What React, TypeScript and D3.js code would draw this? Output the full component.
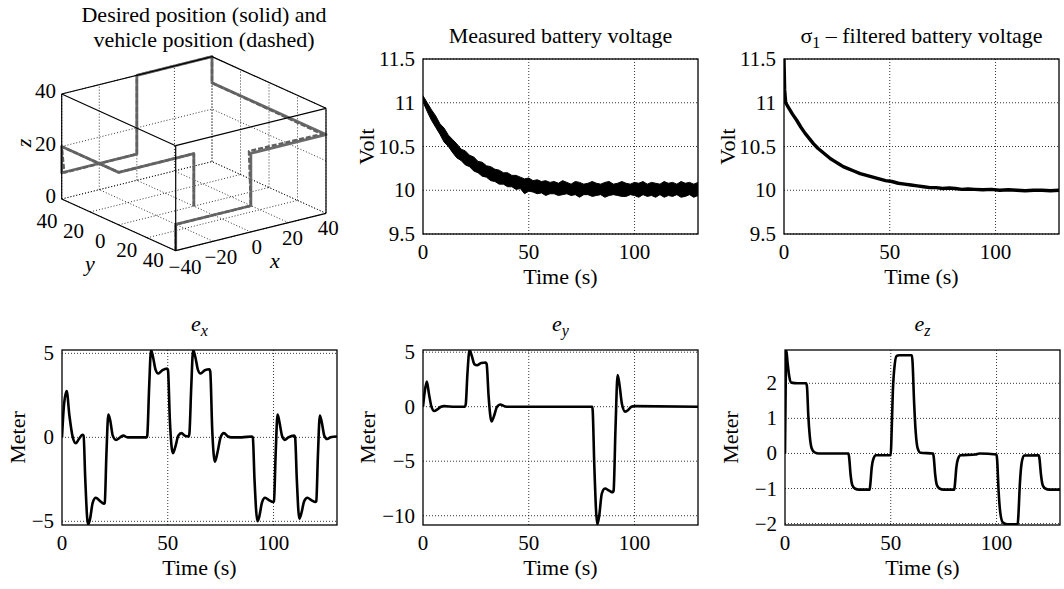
import React from 'react';
import * as d3 from 'd3';

const FONT = '"Liberation Serif", "Times New Roman", serif';
const FS = 21; // tick labels
const FL = 22; // titles and axis names

// shared time axis (s)
const timeDomain = [0, 130];
const timeTicks = [0, 50, 100];

// 3D plot: desired waypoints (solid line)
const posX = [0, 0, -40, -40, -40, 0, 0, 40, 40, 40, 0, 0, -40, -40];
const posY = [0, 0, 0, 40, 40, 40, 40, 40, 40, -40, -40, -40, -40, -40];
const posZ = [0, 20, 20, 20, 10, 10, 40, 40, 30, 30, 30, 10, 10, 0];
// vehicle (dashed), slightly off at the corners
const vehX = [0, 0, -40, -40, -39, 0, 0, 40, 40, 39, -1, 0, -40, -40];
const vehY = [0, 0, 0, 40, 39.5, 40, 40, 40, 40, -38.5, -40, -40, -40, -40];
const vehZ = [0, 20, 20, 20, 10, 10, 40, 40, 30, 30, 31, 10, 10, 0];
const axis3Ticks = [-40, -20, 0, 20, 40];
const yLabels3 = ['40', '20', '0', '20', '40'];
const xLabels3 = ['\u221240', '\u221220', '0', '20', '40'];
const zTicks3 = [0, 20, 40];

// measured battery voltage, noisy band edges every 2 s
const measT = [0, 2, 4, 6, 8, 10, 12, 14, 16, 18, 20, 22, 24, 26, 28, 30, 32, 34, 36, 38, 40, 42, 44, 46, 48, 50,
  52, 54, 56, 58, 60, 62, 64, 66, 68, 70, 72, 74, 76, 78, 80, 82, 84, 86, 88, 90, 92, 94, 96, 98, 100,
  102, 104, 106, 108, 110, 112, 114, 116, 118, 120, 122, 124, 126, 128, 130];
const measHi = [11.08, 11.00, 10.92, 10.85, 10.76, 10.71, 10.63, 10.58, 10.53, 10.47, 10.45, 10.40, 10.38, 10.33,
  10.32, 10.28, 10.27, 10.24, 10.23, 10.20, 10.20, 10.17, 10.17, 10.15, 10.13, 10.14, 10.11, 10.12, 10.10, 10.11,
  10.09, 10.10, 10.08, 10.11, 10.09, 10.07, 10.10, 10.09, 10.07, 10.08, 10.10, 10.08, 10.07, 10.09, 10.10, 10.07,
  10.08, 10.10, 10.08, 10.07, 10.09, 10.08, 10.10, 10.07, 10.09, 10.08, 10.07, 10.10, 10.08, 10.09, 10.07, 10.10,
  10.08, 10.09, 10.07, 10.09];
const measLo = [11.01, 10.90, 10.80, 10.72, 10.64, 10.55, 10.50, 10.43, 10.37, 10.34, 10.29, 10.27, 10.22, 10.20,
  10.16, 10.15, 10.11, 10.10, 10.07, 10.07, 10.04, 10.04, 10.01, 10.02, 9.96, 9.99, 9.98, 9.96, 9.97, 9.94,
  9.96, 9.96, 9.94, 9.95, 9.96, 9.94, 9.95, 9.92, 9.95, 9.95, 9.93, 9.94, 9.95, 9.92, 9.94, 9.95,
  9.94, 9.93, 9.93, 9.95, 9.94, 9.92, 9.95, 9.93, 9.94, 9.92, 9.95, 9.92, 9.94, 9.93, 9.95, 9.92,
  9.93, 9.95, 9.92, 9.94];

// sigma_1 filtered voltage
const filtT = [0, 0.3, 0.8, 2, 4, 6, 8, 10, 12, 14, 16, 18, 20, 22, 24, 26, 28, 30, 33, 36, 39, 42, 45, 48, 51,
  54, 57, 60, 63, 66, 69, 72, 75, 78, 81, 84, 87, 90, 94, 98, 102, 106, 110, 114, 118, 122, 126, 130];
const filtV = [11.5, 11.15, 11.0, 10.95, 10.87, 10.8, 10.72, 10.65, 10.59, 10.53, 10.48, 10.44, 10.40, 10.36,
  10.33, 10.30, 10.27, 10.25, 10.22, 10.19, 10.17, 10.15, 10.13, 10.11, 10.1, 10.08, 10.07, 10.06, 10.05, 10.04,
  10.03, 10.03, 10.02, 10.025, 10.02, 10.01, 10.015, 10.01, 10.005, 10.01, 10.0, 10.005, 10.0, 9.995, 10.0, 10.0,
  9.995, 10.0];

// position errors [t, value]
const errX = [[0, 0], [1, 2.0], [2.2, 2.75], [3.5, 1.3], [5, 0.05], [6.5, -0.35], [8, -0.1], [9.7, 0.15],
  [10.2, 0.1], [11, -2.5], [12.3, -5.2], [13.2, -4.9], [14.5, -3.9], [16, -3.6], [18, -3.8], [19.8, -3.95],
  [20.2, -3.9], [21, -1], [21.9, 1.35], [22.8, 1.0], [24, 0.1], [25.5, -0.15], [27.5, 0], [29, 0.1], [31, 0], [35, 0], [40, 0],
  [40.3, 0.1], [41.2, 3], [42.1, 5.2], [43, 4.8], [44.3, 4.0], [45.5, 3.8], [47.5, 4.0], [49.7, 4.1],
  [50.1, 4.0], [51, 1], [52.4, -0.95], [53.5, -0.6], [55, 0.1], [56.5, 0.25], [58, 0.1], [59.8, 0.05],
  [60.2, 0.2], [61.1, 3], [62, 5.2], [63, 4.8], [64.3, 4.0], [65.5, 3.8], [67.5, 4.0], [69.7, 4.05],
  [70.1, 3.9], [71, 0.5], [72.3, -1.45], [73.5, -0.9], [75, 0], [76.5, 0.25], [78.5, 0.05], [80, 0], [85, 0], [89.8, 0.05],
  [90.2, 0], [91, -2.5], [92.4, -5.0], [93.3, -4.7], [94.5, -3.9], [96, -3.6], [98, -3.75], [99.8, -3.85],
  [100.2, -3.8], [101, -1], [101.9, 1.35], [102.8, 0.9], [104, 0.1], [105.3, -0.15], [107, 0], [109.8, 0.1],
  [110.2, 0], [111, -2.5], [112.2, -4.85], [113.2, -4.5], [114.5, -3.8], [116, -3.6], [118, -3.75], [119.8, -3.85],
  [120.2, -3.8], [121, -1], [121.9, 1.3], [122.8, 0.9], [124, 0.1], [125.3, -0.1], [127, 0], [130, 0.05]];

const errY = [[0, 0], [0.7, 1.2], [1.8, 2.3], [2.8, 1.2], [4, 0], [5.3, -0.4], [6.8, -0.25], [8.5, 0], [10, 0.05], [15, 0], [19.8, 0],
  [20.2, 0.2], [21, 3], [22, 5.2], [23, 4.7], [24.3, 3.9], [25.5, 3.8], [27.5, 4.0], [29.7, 4.05],
  [30.1, 3.9], [31, 1], [32.4, -1.35], [33.5, -0.9], [35, 0], [36.5, 0.2], [38.5, 0.05], [40, 0], [60, 0], [80, 0],
  [80.2, -0.3], [81, -5.5], [82.4, -10.8], [83.3, -10], [84.5, -8.0], [86, -7.5], [88, -7.7], [89.7, -7.85],
  [90.1, -7.7], [91, -2], [92, 2.9], [92.9, 2.0], [94, 0.3], [95.6, -0.45], [97, -0.3], [98.5, 0], [100, 0.05], [130, 0]];

const errZ = [[0, 0], [0.25, 1.5], [0.6, 2.95], [1.2, 2.6], [2, 2.2], [3, 2.02], [6, 2.0], [10, 2.0],
  [10.4, 1.9], [11, 1.1], [11.7, 0.5], [12.6, 0.15], [14, 0.03], [16, 0], [30, 0],
  [30.3, -0.1], [31, -0.6], [31.8, -0.9], [33, -1.0], [35, -1.03], [40, -1.03],
  [40.3, -0.9], [41, -0.4], [41.8, -0.15], [43, -0.05], [50, -0.05],
  [50.3, 0.4], [51, 1.8], [51.8, 2.5], [52.8, 2.78], [54, 2.8], [60, 2.8],
  [60.3, 2.6], [61, 1.5], [61.8, 0.6], [62.7, 0.15], [64, 0.02], [70, 0],
  [70.3, -0.1], [71, -0.6], [71.8, -0.9], [73, -1.0], [75, -1.03], [80, -1.03],
  [80.3, -0.9], [81, -0.4], [81.8, -0.15], [83, -0.05], [90, -0.03], [92, 0], [100, -0.03],
  [100.3, -0.2], [101, -1.1], [101.8, -1.7], [103, -1.97], [105, -2.02], [110, -2.02],
  [110.3, -1.8], [111, -0.9], [111.8, -0.3], [113, -0.06], [120, -0.05],
  [120.3, -0.15], [121, -0.6], [121.8, -0.9], [123, -1.0], [125, -1.03], [130, -1.03]];

const fmt = d3.format('~g');

function Panel({ id, box, yDomain, yTicks, ylabel, ylabelX, title, render }) {
  const x = d3.scaleLinear().domain(timeDomain).range([box.l, box.r]);
  const y = d3.scaleLinear().domain(yDomain).range([box.b, box.t]);
  const w = box.r - box.l;
  const h = box.b - box.t;
  return (
    <g>
      <defs>
        <clipPath id={id}><rect x={box.l} y={box.t} width={w} height={h} /></clipPath>
      </defs>
      {timeTicks.filter(t => t > timeDomain[0]).map(t => (
        <line key={'gx' + t} x1={x(t)} x2={x(t)} y1={box.t} y2={box.b}
          stroke="#000" strokeWidth={0.8} strokeDasharray="1,2" />
      ))}
      {yTicks.map(v => (
        <line key={'gy' + v} x1={box.l} x2={box.r} y1={y(v)} y2={y(v)}
          stroke="#000" strokeWidth={0.8} strokeDasharray="1,2" />
      ))}
      <g clipPath={`url(#${id})`}>{render(x, y)}</g>
      <rect x={box.l} y={box.t} width={w} height={h} fill="none" stroke="#000" strokeWidth={1.3} />
      {timeTicks.map(t => (
        <text key={'tx' + t} x={x(t)} y={box.b + 25} textAnchor="middle">{fmt(t)}</text>
      ))}
      {yTicks.map(v => (
        <text key={'ty' + v} x={box.l - 8} y={y(v)} textAnchor="end" dominantBaseline="central">{fmt(v)}</text>
      ))}
      <text x={(box.l + box.r) / 2} y={box.b + 50} textAnchor="middle" fontSize={FL}>Time (s)</text>
      <text transform={`translate(${ylabelX},${(box.t + box.b) / 2}) rotate(-90)`} textAnchor="middle"
        dominantBaseline="central" fontSize={FL}>{ylabel}</text>
      {title}
    </g>
  );
}

function Plot3D() {
  // unit cube mapping, projected with MATLAB-like view
  const u = d3.scaleLinear().domain([-40, 40]).range([0, 1]);
  const v = d3.scaleLinear().domain([-40, 40]).range([0, 1]);
  const w = d3.scaleLinear().domain([0, 40]).range([0, 1]);
  const O = [175.7, 250.7];
  const AX = [150.3, -37.4];
  const AY = [-114, -51.7];
  const AZ = 105;
  const proj = (x, y, z) => [
    O[0] + u(x) * AX[0] + v(y) * AY[0],
    O[1] + u(x) * AX[1] + v(y) * AY[1] - w(z) * AZ,
  ];
  const line = d3.line();
  const seg = (a, b) => line([proj(a[0], a[1], a[2]), proj(b[0], b[1], b[2])]);

  const grid = [];
  axis3Ticks.forEach(t => {
    grid.push([[t, -40, 0], [t, 40, 0]]);
    grid.push([[-40, t, 0], [40, t, 0]]);
    grid.push([[t, 40, 0], [t, 40, 40]]);
    grid.push([[40, t, 0], [40, t, 40]]);
  });
  zTicks3.forEach(z => {
    grid.push([[-40, 40, z], [40, 40, z]]);
    grid.push([[40, -40, z], [40, 40, z]]);
  });
  const edges = [
    [[-40, -40, 40], [40, -40, 40]], [[40, -40, 40], [40, 40, 40]],
    [[40, 40, 40], [-40, 40, 40]], [[-40, 40, 40], [-40, -40, 40]],
    [[-40, -40, 0], [-40, -40, 40]], [[40, -40, 0], [40, -40, 40]], [[-40, 40, 0], [-40, 40, 40]],
    [[-40, 40, 0], [-40, -40, 0]], [[-40, -40, 0], [40, -40, 0]],
  ];
  const desired = posX.map((x, i) => proj(x, posY[i], posZ[i]));
  const vehicle = vehX.map((x, i) => proj(x, vehY[i], vehZ[i]));

  const yLabX = d3.scaleLinear().domain([40, -40]).range([47, 153.3]);
  const yLabY = d3.scaleLinear().domain([40, -40]).range([221, 260]);
  const xLabX = d3.scaleLinear().domain([-40, 40]).range([185, 328.3]);
  const xLabY = d3.scaleLinear().domain([-40, 40]).range([266.5, 228.3]);

  return (
    <g>
      {grid.map((g, i) => (
        <path key={'g' + i} d={seg(g[0], g[1])} stroke="#000" strokeWidth={0.8} strokeDasharray="1,2" fill="none" />
      ))}
      <path d={line(desired)} fill="none" stroke="#6a6a6a" strokeWidth={2.8} strokeLinejoin="round" />
      <path d={line(vehicle)} fill="none" stroke="#606060" strokeWidth={2.4} strokeDasharray="5,2" strokeLinejoin="round" />
      {edges.map((e, i) => (
        <path key={'e' + i} d={seg(e[0], e[1])} stroke="#000" strokeWidth={1.2} fill="none" />
      ))}
      {zTicks3.map(z => (
        <text key={'z' + z} x={56} y={proj(-40, 40, z)[1] - 3} textAnchor="end" dominantBaseline="central">{z}</text>
      ))}
      {axis3Ticks.map((t, i) => (
        <text key={'y' + t} x={yLabX(t)} y={yLabY(t)} textAnchor="middle" dominantBaseline="central">{yLabels3[i]}</text>
      ))}
      {axis3Ticks.map((t, i) => (
        <text key={'x' + t} x={xLabX(t)} y={xLabY(t)} textAnchor="middle" dominantBaseline="central">{xLabels3[i]}</text>
      ))}
      <text x={275} y={260} textAnchor="middle" dominantBaseline="central" fontStyle="italic" fontSize={FL}>x</text>
      <text x={90} y={263} textAnchor="middle" dominantBaseline="central" fontStyle="italic" fontSize={FL}>y</text>
      <text transform="translate(23,143) rotate(-90)" textAnchor="middle" dominantBaseline="central" fontStyle="italic" fontSize={FL}>z</text>
      <text x={204} y={22} textAnchor="middle" fontSize={FL}>Desired position (solid) and</text>
      <text x={204} y={47} textAnchor="middle" fontSize={FL}>vehicle position (dashed)</text>
    </g>
  );
}

const boxV1 = { l: 423, r: 698, t: 59, b: 234 };
const boxV2 = { l: 784, r: 1059, t: 59, b: 234 };
const boxEX = { l: 62, r: 337, t: 350, b: 525 };
const boxEY = { l: 423, r: 698, t: 350, b: 525 };
const boxEZ = { l: 785, r: 1060, t: 350, b: 525 };

const voltTicks = [9.5, 10, 10.5, 11, 11.5];

function errTitle(box, sub) {
  return (
    <text x={(box.l + box.r) / 2} y={box.t - 19} textAnchor="middle" fontSize={FL}>
      <tspan fontStyle="italic">e</tspan>
      <tspan fontStyle="italic" fontSize={16} dy={5}>{sub}</tspan>
    </text>
  );
}

export default function App() {
  const errLine = (x, y) => d3.line().x(d => x(d[0])).y(d => y(d[1])).curve(d3.curveMonotoneX);
  return (
    <div style={{ position: 'absolute', left: 0, top: 0 }}>
      <svg width={1064} height={589} style={{ display: 'block', background: '#fff' }}
        fontFamily={FONT} fontSize={FS} fill="#000">
        <Plot3D />
        <Panel id="c1" box={boxV1} yDomain={[9.5, 11.5]} yTicks={voltTicks} ylabel="Volt" ylabelX={boxV1.l - 57}
          title={<text x={(boxV1.l + boxV1.r) / 2} y={43} textAnchor="middle" fontSize={FL}>Measured battery voltage</text>}
          render={(x, y) => {
            const area = d3.area().x((d, i) => x(measT[i])).y0((d, i) => y(measLo[i])).y1((d, i) => y(measHi[i]));
            return <path d={area(measT)} fill="#000" stroke="#000" strokeWidth={1} strokeLinejoin="miter" />;
          }} />
        <Panel id="c2" box={boxV2} yDomain={[9.5, 11.5]} yTicks={voltTicks} ylabel="Volt" ylabelX={boxV2.l - 57}
          title={
            <text x={(boxV2.l + boxV2.r) / 2} y={43} textAnchor="middle" fontSize={FL}>
              <tspan>σ</tspan><tspan fontSize={16} dy={5}>1</tspan><tspan dy={-5}> – filtered battery voltage</tspan>
            </text>
          }
          render={(x, y) => {
            const l = d3.line().x((d, i) => x(filtT[i])).y((d, i) => y(filtV[i]));
            return <path d={l(filtT)} fill="none" stroke="#000" strokeWidth={3.4} strokeLinejoin="round" />;
          }} />
        <Panel id="c3" box={boxEX} yDomain={[-5.22, 5.2]} yTicks={[-5, 0, 5]} ylabel="Meter" ylabelX={boxEX.l - 45}
          title={errTitle(boxEX, 'x')}
          render={(x, y) => <path d={errLine(x, y)(errX)} fill="none" stroke="#000" strokeWidth={2.6} />} />
        <Panel id="c4" box={boxEY} yDomain={[-10.85, 5.2]} yTicks={[-10, -5, 0, 5]} ylabel="Meter" ylabelX={boxEY.l - 56}
          title={errTitle(boxEY, 'y')}
          render={(x, y) => <path d={errLine(x, y)(errY)} fill="none" stroke="#000" strokeWidth={2.6} />} />
        <Panel id="c5" box={boxEZ} yDomain={[-2.04, 2.95]} yTicks={[-2, -1, 0, 1, 2]} ylabel="Meter" ylabelX={boxEZ.l - 55}
          title={errTitle(boxEZ, 'z')}
          render={(x, y) => <path d={errLine(x, y)(errZ)} fill="none" stroke="#000" strokeWidth={2.6} />} />
      </svg>
    </div>
  );
}
